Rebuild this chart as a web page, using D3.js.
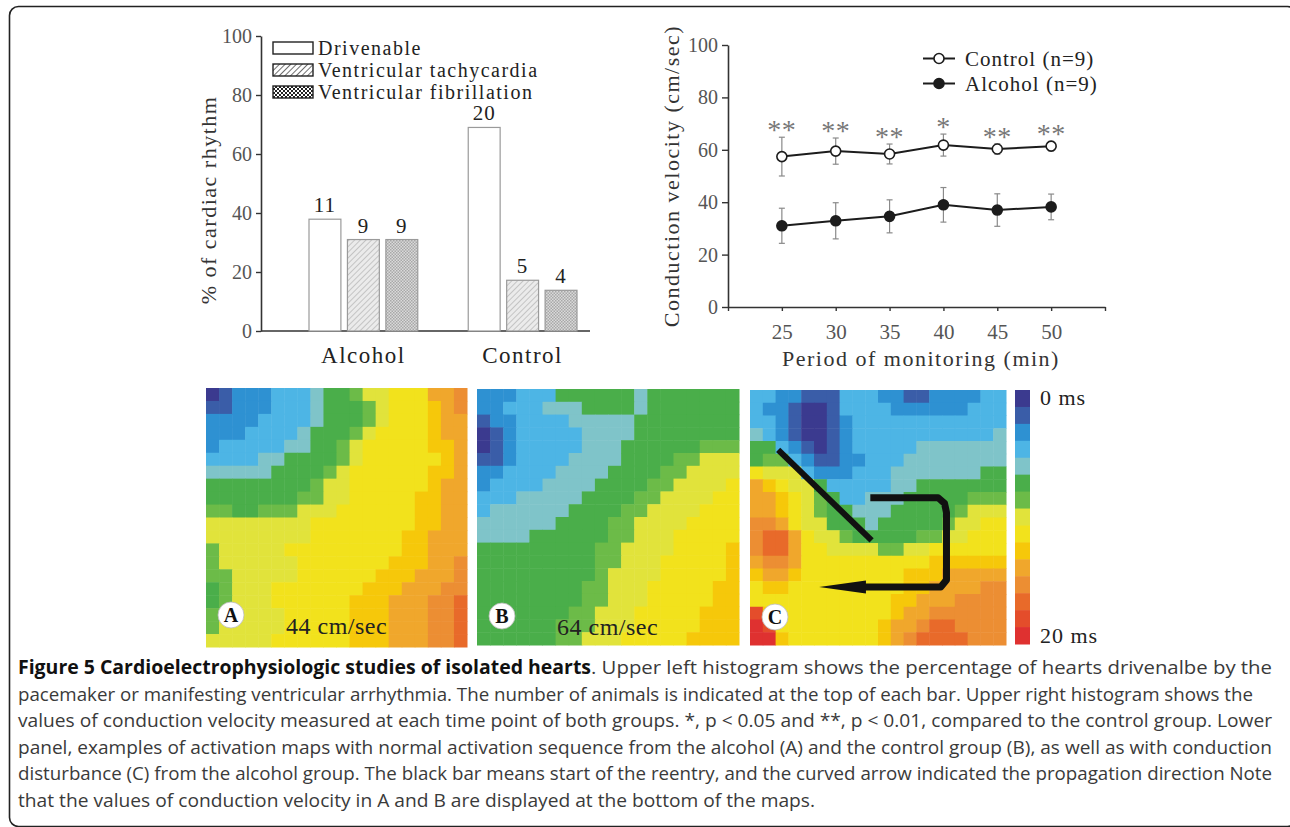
<!DOCTYPE html>
<html>
<head>
<meta charset="utf-8">
<script src="https://cdn.jsdelivr.net/npm/d3@7"></script>
<style>
  body { margin: 0; background: #fff; }
</style>
</head>
<body>
<div class="myChart"></div>
<script>
//Data - upper left histogram (% of hearts, n on top of bars)
var groups = ["Alcohol", "Control"];
var rhythms = ["Drivenable", "Ventricular tachycardia", "Ventricular fibrillation"];
var alcoholPct = [37.9, 31.0, 31.0];
var controlPct = [69.0, 17.2, 13.8];
var alcoholN = [11, 9, 9];
var controlN = [20, 5, 4];
var pctTicks = [0, 20, 40, 60, 80, 100];

//Data - upper right, conduction velocity (mean, sd)
var minutes = [25, 30, 35, 40, 45, 50];
var controlCV = [57.4, 59.5, 58.4, 61.8, 60.3, 61.4];
var controlSD = [7.4, 5.0, 3.8, 4.2, 2.0, 1.8];
var alcoholCV = [31.0, 32.9, 34.6, 39.0, 37.0, 38.2];
var alcoholSD = [6.7, 6.9, 6.3, 6.6, 6.2, 4.9];
var sigMarks = ["**", "**", "**", "*", "**", "**"];
var cvTicks = [0, 20, 40, 60, 80, 100];
var minuteTicks = [20, 25, 30, 35, 40, 45, 50, 55];
var cvSeries = ["Control (n=9)", "Alcohol (n=9)"];

//Data - activation maps, one hex digit per cell = colour step (0 = 0 ms ... e = 20 ms)
var mapA = [
  "01222333455677888aab",
  "112223334555678889ab",
  "222233334555678889aa",
  "222333345556788889aa",
  "2333334455678888899a",
  "3333445555678888889a",
  "4444455556788888899a",
  "555555556778888889aa",
  "555555566778888899aa",
  "665566677788888899aa",
  "777777778888888899aa",
  "77777777888888899aaa",
  "67777788888888899aaa",
  "67777778888888999aab",
  "6677777888888999aaab",
  "567778888888999aaabb",
  "56777888888999aaabbc",
  "66777788888999aaabbc",
  "67777788888999aaabbc",
  "77777888888999aaabbc"
];
var mapB = [
  "22233355555545555555",
  "22333444555545555555",
  "12233334444455555555",
  "01233333444455555555",
  "01233333444555555666",
  "11233334444555566777",
  "22333344445555667777",
  "23333444455556677778",
  "33344444555566777788",
  "34444445555667777888",
  "44444455556677778888",
  "44445555556677788888",
  "55555555566777788889",
  "55555555566777888889",
  "55555555567777888889",
  "55555555667778888899",
  "55555555667778888899",
  "55555556677788888999",
  "55555566677788888999",
  "55555566777888889999"
];
var mapC = [
  "33221113332211222233",
  "32210013333222222333",
  "33210012333333333333",
  "43210012333333333334",
  "55321012333334444444",
  "56632112233344444444",
  "87773222333444444455",
  "a9877533333445555555",
  "aa987653344455555666",
  "aa987655444555556777",
  "bba87755545555567788",
  "bcca8776555556677888",
  "bcca8877776677888888",
  "abba8888888888999999",
  "9aa988888888999aaaaa",
  "89988888888899aaaabb",
  "8888888888899aaabbbb",
  "d98888888889aabbbbbb",
  "ed888888889aabccbbbb",
  "ee988888889abccccbbb"
];
var stepColors = ["#3b3a8f", "#3a5da8", "#2e91d2", "#4db5e5", "#7fc4c9", "#4aae4a", "#6cbb48",
                  "#e1e33b", "#f2e21c", "#f6c80a", "#f0a72c", "#ec8e33", "#e86a2a", "#e44d2b", "#df3130"];
var mapLetters = ["A", "B", "C"];
var mapSpeeds = ["44 cm/sec", "64 cm/sec", ""];
var scaleLabels = ["0 ms", "20 ms"];
//reentry marks on map C, in cell units
var reentryBar = [[2.2, 4.7], [9.5, 11.8]];
var reentryArrow = [[9.4, 8.45], [14.7, 8.45], [15.2, 8.9], [15.35, 9.6], [15.35, 14.9], [14.9, 15.45], [8.9, 15.45]];
var arrowTip = [5.4, 15.45];

//Caption
var captionBold = "Figure 5 Cardioelectrophysiologic studies of isolated hearts";
var captionLines = [
  ". Upper left histogram shows the percentage of hearts drivenalbe by the",
  "pacemaker or manifesting ventricular arrhythmia. The number of animals is indicated at the top of each bar. Upper right histogram shows the",
  "values of conduction velocity measured at each time point of both groups. *, p < 0.05 and **, p < 0.01, compared to the control group. Lower",
  "panel, examples of activation maps with normal activation sequence from the alcohol (A) and the control group (B), as well as with conduction",
  "disturbance (C) from the alcohol group. The black bar means start of the reentry, and the curved arrow indicated the propagation direction Note",
  "that the values of conduction velocity in A and B are displayed at the bottom of the maps."
];

function run () {
    var width = 1290;
    var height = 827;
    var serif = "'Liberation Serif', 'Times New Roman', serif";
    var tickGray = "#555";
    var axisColor = "#333";

    var svg = d3.select(".myChart").append("svg")
        .attr("width", width)
        .attr("height", height)
        .style("display", "block")
        .style("background", "#fff");

    //Patterns for bars and legend boxes
    var defs = svg.append("defs");
    function hatch (id, bg, fg, w) {
        var p = defs.append("pattern").attr("id", id)
            .attr("patternUnits", "userSpaceOnUse")
            .attr("width", 4).attr("height", 4)
            .attr("patternTransform", "rotate(45)");
        p.append("rect").attr("width", 4).attr("height", 4).attr("fill", bg);
        p.append("line").attr("x1", 0).attr("y1", 0).attr("x2", 0).attr("y2", 4)
            .attr("stroke", fg).attr("stroke-width", w);
    }
    function checker (id, bg, fg, s) {
        var p = defs.append("pattern").attr("id", id)
            .attr("patternUnits", "userSpaceOnUse")
            .attr("width", s * 2).attr("height", s * 2);
        p.append("rect").attr("width", s * 2).attr("height", s * 2).attr("fill", bg);
        p.append("rect").attr("width", s).attr("height", s).attr("fill", fg);
        p.append("rect").attr("x", s).attr("y", s).attr("width", s).attr("height", s).attr("fill", fg);
    }
    hatch("vtBar", "#ebebeb", "#b4b4b4", 1.4);
    checker("vfBar", "#dadada", "#a8a8a8", 1.5);
    hatch("vtLeg", "#fff", "#222", 1.3);
    checker("vfLeg", "#fff", "#222", 2);

    //Frame
    svg.append("rect")
        .attr("x", 9.5).attr("y", 6.5)
        .attr("width", 1287).attr("height", 820)
        .attr("rx", 9)
        .attr("fill", "none")
        .attr("stroke", "#222")
        .attr("stroke-width", 1.6);

    function styleAxis (g) {
        g.select(".domain").attr("stroke", axisColor).attr("stroke-width", 1.6);
        g.selectAll(".tick line").attr("stroke", axisColor).attr("stroke-width", 1.4);
        g.selectAll(".tick text")
            .attr("fill", tickGray)
            .style("font-family", serif)
            .style("font-size", "20px");
    }

    // ---------- Upper left histogram ----------
    var barY = d3.scaleLinear().domain([0, 100]).range([331, 36]);
    var barX0 = d3.scaleBand().domain(groups).range([309, 577]).paddingInner(0.317);
    var barX1 = d3.scaleBand().domain(rhythms).range([0, barX0.bandwidth()]).paddingInner(0.17);
    var barFill = d3.scaleOrdinal().domain(rhythms).range(["#fff", "url(#vtBar)", "url(#vfBar)"]);
    var legFill = d3.scaleOrdinal().domain(rhythms).range(["#fff", "url(#vtLeg)", "url(#vfLeg)"]);

    var barAxis = svg.append("g")
        .attr("transform", "translate(261,0)")
        .call(d3.axisLeft(barY).tickValues(pctTicks).tickSize(5).tickPadding(4).tickSizeOuter(0));
    styleAxis(barAxis);

    //baseline
    var barBase = d3.scaleLinear().domain([0, 1]).range([261, 590]);
    svg.append("line")
        .attr("x1", barBase(0)).attr("x2", barBase(1))
        .attr("y1", barY(0)).attr("y2", barY(0))
        .attr("stroke", axisColor).attr("stroke-width", 1.6);

    var barData = [];
    groups.forEach(function (g, gi) {
        rhythms.forEach(function (r, ri) {
            barData.push({
                group: g,
                rhythm: r,
                value: gi === 0 ? alcoholPct[ri] : controlPct[ri],
                n: gi === 0 ? alcoholN[ri] : controlN[ri]
            });
        });
    });

    svg.append("g").selectAll("rect")
        .data(barData)
        .enter()
        .append("rect")
        .attr("x", function (d) { return barX0(d.group) + barX1(d.rhythm); })
        .attr("y", function (d) { return barY(d.value); })
        .attr("width", barX1.bandwidth())
        .attr("height", function (d) { return barY(0) - barY(d.value); })
        .attr("fill", function (d) { return barFill(d.rhythm); })
        .attr("stroke", "#9a9a9a")
        .attr("stroke-width", 1.2);

    svg.append("g").selectAll("text")
        .data(barData)
        .enter()
        .append("text")
        .attr("x", function (d) { return barX0(d.group) + barX1(d.rhythm) + barX1.bandwidth() / 2; })
        .attr("y", function (d) { return barY(d.value) - 7; })
        .attr("text-anchor", "middle")
        .style("font-family", serif)
        .style("font-size", "21px")
        .style("letter-spacing", "1px")
        .attr("fill", "#222")
        .text(function (d) { return d.n; });

    svg.append("g").selectAll("text")
        .data(groups)
        .enter()
        .append("text")
        .attr("x", function (d) { return barX0(d) + barX0.bandwidth() / 2; })
        .attr("y", 363)
        .attr("text-anchor", "middle")
        .style("font-family", serif)
        .style("font-size", "23px")
        .style("letter-spacing", "1.5px")
        .attr("fill", "#222")
        .text(function (d) { return d; });

    svg.append("text")
        .attr("transform", "translate(216,200) rotate(-90)")
        .attr("text-anchor", "middle")
        .style("font-family", serif)
        .style("font-size", "22px")
        .style("letter-spacing", "1.5px")
        .attr("fill", "#333")
        .text("% of cardiac rhythm");

    //Legend
    var legY = d3.scaleBand().domain(rhythms).range([37, 103]);
    var leg = svg.append("g").selectAll("g")
        .data(rhythms)
        .enter()
        .append("g")
        .attr("transform", function (d) { return "translate(273," + (legY(d) + legY.bandwidth() / 2) + ")"; });
    leg.append("rect")
        .attr("x", 0).attr("y", -6)
        .attr("width", 40).attr("height", 12)
        .attr("fill", function (d) { return legFill(d); })
        .attr("stroke", "#222")
        .attr("stroke-width", 1.4);
    leg.append("text")
        .attr("x", 45).attr("y", 7)
        .style("font-family", serif)
        .style("font-size", "20px")
        .style("letter-spacing", "1.5px")
        .attr("fill", "#222")
        .text(function (d) { return d; });

    // ---------- Upper right line chart ----------
    var cvX = d3.scaleLinear().domain([20, 55]).range([728, 1105]);
    var cvY = d3.scaleLinear().domain([0, 100]).range([307, 45]);

    var xAxisG = svg.append("g")
        .attr("transform", "translate(0," + cvY(0) + ")")
        .call(d3.axisBottom(cvX).tickValues(minuteTicks)
            .tickFormat(function (d) { return (d === 20 || d === 55) ? "" : d; })
            .tickSize(4).tickSizeOuter(0).tickPadding(13));
    styleAxis(xAxisG);
    xAxisG.selectAll(".tick text").style("font-size", "21px");

    var yAxisG = svg.append("g")
        .attr("transform", "translate(" + cvX(20) + ",0)")
        .call(d3.axisLeft(cvY).tickValues(cvTicks).tickSize(6).tickPadding(4).tickSizeOuter(0));
    styleAxis(yAxisG);

    var cvData = [
        minutes.map(function (m, i) { return {m: m, v: controlCV[i], sd: controlSD[i], sig: sigMarks[i]}; }),
        minutes.map(function (m, i) { return {m: m, v: alcoholCV[i], sd: alcoholSD[i]}; })
    ];
    var lineColor = "#1c1c1c";

    //Error bars
    cvData.forEach(function (series) {
        var eb = svg.append("g").selectAll("g")
            .data(series)
            .enter()
            .append("g")
            .attr("stroke", "#8a8a8a")
            .attr("stroke-width", 1.2);
        eb.append("line")
            .attr("x1", function (d) { return cvX(d.m); })
            .attr("x2", function (d) { return cvX(d.m); })
            .attr("y1", function (d) { return cvY(d.v - d.sd); })
            .attr("y2", function (d) { return cvY(d.v + d.sd); });
        [1, -1].forEach(function (s) {
            eb.append("line")
                .attr("x1", function (d) { return cvX(d.m) - 3; })
                .attr("x2", function (d) { return cvX(d.m) + 3; })
                .attr("y1", function (d) { return cvY(d.v + s * d.sd); })
                .attr("y2", function (d) { return cvY(d.v + s * d.sd); });
        });
    });

    var cvLine = d3.line()
        .x(function (d) { return cvX(d.m); })
        .y(function (d) { return cvY(d.v); });

    cvData.forEach(function (series, si) {
        svg.append("path")
            .datum(series)
            .attr("d", cvLine)
            .attr("fill", "none")
            .attr("stroke", lineColor)
            .attr("stroke-width", 2);
        svg.append("g").selectAll("circle")
            .data(series)
            .enter()
            .append("circle")
            .attr("cx", function (d) { return cvX(d.m); })
            .attr("cy", function (d) { return cvY(d.v); })
            .attr("r", 5)
            .attr("fill", si === 0 ? "#fff" : lineColor)
            .attr("stroke", lineColor)
            .attr("stroke-width", 1.6);
    });

    //Significance stars
    svg.append("g").selectAll("text")
        .data(cvData[0])
        .enter()
        .append("text")
        .attr("x", function (d) { return cvX(d.m); })
        .attr("y", function (d) { return cvY(d.v + d.sd) + 2; })
        .attr("text-anchor", "middle")
        .style("font-family", serif)
        .style("font-size", "28px")
        .style("letter-spacing", "0.5px")
        .attr("fill", "#777")
        .text(function (d) { return d.sig; });

    //Legend
    var cvLegY = d3.scaleBand().domain(cvSeries).range([46, 96]);
    var cvLeg = svg.append("g").selectAll("g")
        .data(cvSeries)
        .enter()
        .append("g")
        .attr("transform", function (d) { return "translate(923," + (cvLegY(d) + cvLegY.bandwidth() / 2) + ")"; });
    cvLeg.append("line")
        .attr("x1", 0).attr("x2", 32)
        .attr("stroke", lineColor).attr("stroke-width", 2);
    cvLeg.append("circle")
        .attr("cx", 16).attr("r", 5)
        .attr("fill", function (d, i) { return i === 0 ? "#fff" : lineColor; })
        .attr("stroke", lineColor).attr("stroke-width", 1.6);
    cvLeg.append("text")
        .attr("x", 42).attr("y", 7)
        .style("font-family", serif)
        .style("font-size", "21px")
        .style("letter-spacing", "1px")
        .attr("fill", "#222")
        .text(function (d) { return d; });

    svg.append("text")
        .attr("transform", "translate(679,176) rotate(-90)")
        .attr("text-anchor", "middle")
        .style("font-family", serif)
        .style("font-size", "22px")
        .style("letter-spacing", "1.5px")
        .attr("fill", "#333")
        .text("Conduction velocity (cm/sec)");

    svg.append("text")
        .attr("x", 921).attr("y", 366)
        .attr("text-anchor", "middle")
        .style("font-family", serif)
        .style("font-size", "22px")
        .style("letter-spacing", "1.5px")
        .attr("fill", "#333")
        .text("Period of monitoring (min)");

    // ---------- Activation maps ----------
    var maps = [
        {rows: mapA, x: [206, 467], y: [388, 647]},
        {rows: mapB, x: [477, 739], y: [389, 645]},
        {rows: mapC, x: [750, 1006], y: [390, 645]}
    ];

    maps.forEach(function (mp, mi) {
        var nc = mp.rows[0].length;
        var nr = mp.rows.length;
        var xs = d3.scaleBand().domain(d3.range(nc)).range(mp.x);
        var ys = d3.scaleBand().domain(d3.range(nr)).range(mp.y);
        var cells = [];
        mp.rows.forEach(function (row, r) {
            row.split("").forEach(function (ch, c) {
                cells.push({r: r, c: c, v: parseInt(ch, 16)});
            });
        });
        var g = svg.append("g");
        g.selectAll("rect")
            .data(cells)
            .enter()
            .append("rect")
            .attr("x", function (d) { return xs(d.c); })
            .attr("y", function (d) { return ys(d.r); })
            .attr("width", xs.bandwidth() + 0.5)
            .attr("height", ys.bandwidth() + 0.5)
            .attr("fill", function (d) { return stepColors[d.v]; });
        mp.cx = d3.scaleLinear().domain([0, nc]).range(mp.x);
        mp.cy = d3.scaleLinear().domain([0, nr]).range(mp.y);

        //letter badge + velocity
        g.append("circle")
            .attr("cx", mp.x[0] + 25).attr("cy", mp.y[0] + 227)
            .attr("r", 13)
            .attr("fill", "#fff")
            .attr("stroke", "#bbb")
            .attr("stroke-width", 0.8);
        g.append("text")
            .attr("x", mp.x[0] + 25).attr("y", mp.y[0] + 234)
            .attr("text-anchor", "middle")
            .style("font-family", serif)
            .style("font-size", "20px")
            .style("font-weight", "bold")
            .attr("fill", "#111")
            .text(mapLetters[mi]);
        g.append("text")
            .attr("x", mp.x[0] + 80).attr("y", mp.y[0] + 246)
            .style("font-family", serif)
            .style("font-size", "24px")
            .style("letter-spacing", "0.5px")
            .attr("fill", "#222")
            .text(mapSpeeds[mi]);
    });

    //Reentry bar and curved arrow on map C
    var mc = maps[2];
    svg.append("line")
        .attr("x1", mc.cx(reentryBar[0][0])).attr("y1", mc.cy(reentryBar[0][1]))
        .attr("x2", mc.cx(reentryBar[1][0])).attr("y2", mc.cy(reentryBar[1][1]))
        .attr("stroke", "#111")
        .attr("stroke-width", 6);
    svg.append("path")
        .datum(reentryArrow)
        .attr("d", d3.line().x(function (d) { return mc.cx(d[0]); }).y(function (d) { return mc.cy(d[1]); }))
        .attr("fill", "none")
        .attr("stroke", "#111")
        .attr("stroke-width", 7)
        .attr("stroke-linejoin", "round");
    var last = reentryArrow[reentryArrow.length - 1];
    var headBase = mc.cx(last[0]) + 2;
    var headY = mc.cy(last[1]);
    svg.append("path")
        .attr("d", "M" + mc.cx(arrowTip[0]) + "," + mc.cy(arrowTip[1]) +
            "L" + headBase + "," + (headY - 6.5) +
            "L" + headBase + "," + (headY + 6.5) + "Z")
        .attr("fill", "#111");

    //Colour scale
    var barScale = d3.scaleBand().domain(d3.range(stepColors.length)).range([390, 644]);
    svg.append("g").selectAll("rect")
        .data(stepColors)
        .enter()
        .append("rect")
        .attr("x", 1015)
        .attr("y", function (d, i) { return barScale(i); })
        .attr("width", 15)
        .attr("height", barScale.bandwidth() + 0.5)
        .attr("fill", function (d) { return d; });
    svg.append("g").selectAll("text")
        .data(scaleLabels)
        .enter()
        .append("text")
        .attr("x", 1040)
        .attr("y", function (d, i) { return i === 0 ? 405 : 643; })
        .style("font-family", serif)
        .style("font-size", "22px")
        .style("letter-spacing", "1px")
        .attr("fill", "#222")
        .text(function (d) { return d; });

    // ---------- Caption ----------
    var capFont = "'Open Sans', 'Noto Sans', sans-serif";
    var capY = d3.scaleLinear().domain([0, 1]).range([674, 700.5]);
    var capEnds = [1272, 1253, 1272, 1272, 1272, 815];
    svg.append("text")
        .attr("x", 18).attr("y", capY(0))
        .attr("textLength", 573)
        .attr("lengthAdjust", "spacingAndGlyphs")
        .style("font-family", capFont)
        .style("font-size", "19px")
        .style("font-weight", "bold")
        .attr("fill", "#111")
        .text(captionBold);
    svg.append("g").selectAll("text")
        .data(captionLines)
        .enter()
        .append("text")
        .attr("x", function (d, i) { return i === 0 ? 591 : 18; })
        .attr("y", function (d, i) { return capY(i); })
        .attr("textLength", function (d, i) { return capEnds[i] - (i === 0 ? 591 : 18); })
        .attr("lengthAdjust", "spacingAndGlyphs")
        .style("font-family", capFont)
        .style("font-size", "19px")
        .attr("fill", "#3a3a3a")
        .text(function (d) { return d; });
}

run();
</script>
</body>
</html>
